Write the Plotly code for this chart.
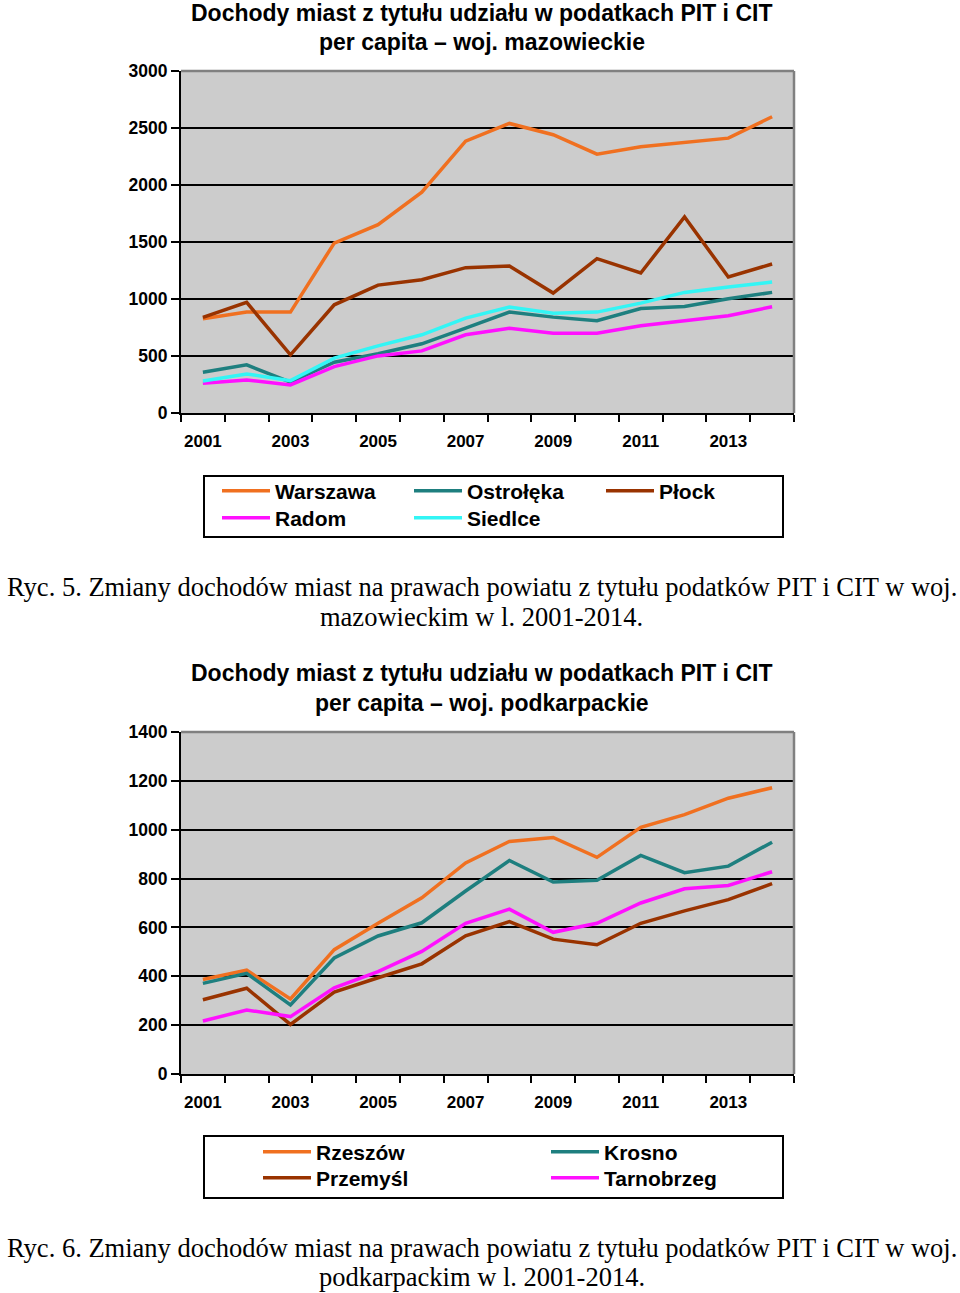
import plotly.graph_objects as go

# ---------------- data ----------------
years = [2001, 2002, 2003, 2004, 2005, 2006, 2007, 2008, 2009, 2010, 2011, 2012, 2013, 2014]
label_years = [2001, 2003, 2005, 2007, 2009, 2011, 2013]
label_text = ["2001", "2003", "2005", "2007", "2009", "2011", "2013"]

# woj. mazowieckie
maz_names = ["Warszawa", "Ostrołęka", "Płock", "Radom", "Siedlce"]
warszawa = [826, 885, 885, 1491, 1652, 1937, 2385, 2540, 2441, 2271, 2335, 2370, 2411, 2599]
ostroleka = [357, 422, 270, 445, 519, 607, 744, 885, 841, 809, 917, 935, 1002, 1058]
plock = [838, 970, 510, 949, 1122, 1169, 1275, 1289, 1052, 1354, 1228, 1720, 1193, 1307]
radom = [261, 290, 246, 407, 501, 545, 686, 744, 700, 700, 765, 809, 853, 932]
siedlce = [281, 343, 284, 481, 589, 686, 832, 929, 876, 885, 964, 1058, 1105, 1149]
maz_values = [warszawa, ostroleka, plock, radom, siedlce]
maz_legend_row = [1, 1, 1, 2, 2]

# woj. podkarpackie
pod_names = ["Rzeszów", "Krosno", "Przemyśl", "Tarnobrzeg"]
rzeszow = [387, 425, 307, 509, 617, 721, 864, 952, 968, 887, 1010, 1062, 1129, 1172]
krosno = [371, 412, 283, 475, 565, 619, 749, 874, 786, 793, 895, 824, 851, 949]
przemysl = [304, 351, 203, 335, 394, 451, 566, 624, 552, 529, 617, 668, 714, 779]
tarnobrzeg = [217, 262, 235, 353, 419, 502, 617, 675, 580, 617, 700, 758, 772, 828]
pod_values = [rzeszow, krosno, przemysl, tarnobrzeg]
pod_legend_row = [1, 1, 2, 2]

title1 = ["Dochody miast z tytułu udziału w podatkach PIT i CIT", "per capita – woj. mazowieckie"]
title2 = ["Dochody miast z tytułu udziału w podatkach PIT i CIT", "per capita – woj. podkarpackie"]
caption1 = ["Ryc. 5. Zmiany dochodów miast na prawach powiatu z tytułu podatków PIT i CIT w woj.",
            "mazowieckim w l. 2001-2014."]
caption2 = ["Ryc. 6. Zmiany dochodów miast na prawach powiatu z tytułu podatków PIT i CIT w woj.",
            "podkarpackim w l. 2001-2014."]

# ---------------- style ----------------
maz_colors = ["#F07020", "#1E7F7F", "#993300", "#FF10FF", "#33F5F5"]
pod_colors = ["#F07020", "#1E7F7F", "#993300", "#FF10FF"]

W, H = 960, 1293
ML, MR = 160, 166
GW = W - ML - MR


def px(x):
    return (x - ML) / GW


def py(y):
    return (H - y) / H


SANS = "Liberation Sans, Arial, sans-serif"
SERIF = "Liberation Serif, Times New Roman, serif"

fig = go.Figure()

maz_leg = {1: "legend", 2: "legend3"}
pod_leg = {1: "legend2", 2: "legend4"}
for name, vals, col, row in zip(maz_names, maz_values, maz_colors, maz_legend_row):
    fig.add_trace(go.Scatter(x=years, y=vals, name=name, mode="lines",
                             line=dict(color=col, width=3.5),
                             xaxis="x", yaxis="y", legend=maz_leg[row]))
for name, vals, col, row in zip(pod_names, pod_values, pod_colors, pod_legend_row):
    fig.add_trace(go.Scatter(x=years, y=vals, name=name, mode="lines",
                             line=dict(color=col, width=3.5),
                             xaxis="x2", yaxis="y2", legend=pod_leg[row]))

xcommon = dict(range=[2000.5, 2014.5], tickmode="array", tickvals=label_years, ticktext=label_text,
               ticks="", showline=True, linecolor="black", linewidth=2, showgrid=False,
               zeroline=False, ticklabelstandoff=12,
               tickfont=dict(family=SANS, size=17, color="black", weight="bold"),
               minor=dict(ticks="outside", ticklen=7, tickcolor="black", tickwidth=1.5,
                          tickmode="linear", tick0=2000.5, dtick=1, showgrid=False))
ycommon = dict(ticks="outside", ticklen=8, tickcolor="black", tickwidth=1.5,
               showline=True, linecolor="black", linewidth=2,
               showgrid=True, gridcolor="black", gridwidth=2, zeroline=False,
               tickfont=dict(family=SANS, size=17.5, color="black", weight="bold"))


def leg(x, y, ew):
    return dict(orientation="h", x=px(x), y=py(y), xanchor="left", yanchor="middle",
                bgcolor="rgba(0,0,0,0)", borderwidth=0, itemwidth=48, entrywidth=ew,
                font=dict(family=SANS, size=21, color="black", weight="bold"),
                traceorder="normal")


fig.update_layout(
    width=W, height=H,
    margin=dict(l=ML, r=MR, t=0, b=0, autoexpand=False),
    paper_bgcolor="white", plot_bgcolor="#CCCCCC",
    xaxis=dict(domain=[px(181), px(794)], anchor="y", **xcommon),
    yaxis=dict(domain=[py(413), py(71)], anchor="x", range=[0, 3000], dtick=500, **ycommon),
    xaxis2=dict(domain=[px(181), px(794)], anchor="y2", **xcommon),
    yaxis2=dict(domain=[py(1074), py(732)], anchor="x2", range=[0, 1400], dtick=200, **ycommon),
    legend=leg(217, 491, 129),
    legend3=leg(217, 518, 129),
    legend2=leg(258, 1152, 225),
    legend4=leg(258, 1178, 225),
    showlegend=True,
)

annotations = []
for txt, yy in zip(title1, [13, 42]):
    annotations.append(dict(text=txt, x=px(482), y=py(yy), xref="paper", yref="paper",
                            showarrow=False, xanchor="center", yanchor="middle",
                            font=dict(family=SANS, size=23, color="black", weight="bold")))
for txt, yy in zip(title2, [673, 703]):
    annotations.append(dict(text=txt, x=px(482), y=py(yy), xref="paper", yref="paper",
                            showarrow=False, xanchor="center", yanchor="middle",
                            font=dict(family=SANS, size=23, color="black", weight="bold")))
for txt, yy in zip(caption1, [587, 617]):
    annotations.append(dict(text=txt, x=px(482), y=py(yy), xref="paper", yref="paper",
                            showarrow=False, xanchor="center", yanchor="middle",
                            font=dict(family=SERIF, size=26.5, color="black")))
for txt, yy in zip(caption2, [1248, 1277]):
    annotations.append(dict(text=txt, x=px(482), y=py(yy), xref="paper", yref="paper",
                            showarrow=False, xanchor="center", yanchor="middle",
                            font=dict(family=SERIF, size=26.5, color="black")))
fig.update_layout(annotations=annotations)

shapes = []
# gray frame on top and right of the plot areas
for xr, yr in [("x domain", "y domain"), ("x2 domain", "y2 domain")]:
    shapes.append(dict(type="line", xref=xr, yref=yr, x0=0, x1=1, y0=1, y1=1,
                       line=dict(color="#808080", width=2.5), layer="above"))
    shapes.append(dict(type="line", xref=xr, yref=yr, x0=1, x1=1, y0=0, y1=1,
                       line=dict(color="#808080", width=2.5), layer="above"))
# legend boxes
for y0, y1 in [(476, 537), (1136, 1198)]:
    shapes.append(dict(type="rect", xref="paper", yref="paper",
                       x0=px(204), x1=px(783), y0=py(y1), y1=py(y0),
                       line=dict(color="black", width=2), fillcolor="rgba(0,0,0,0)"))
fig.update_layout(shapes=shapes)

fig.write_html("out.html", config={"displayModeBar": False},
               post_script="document.body.style.margin='0';")
